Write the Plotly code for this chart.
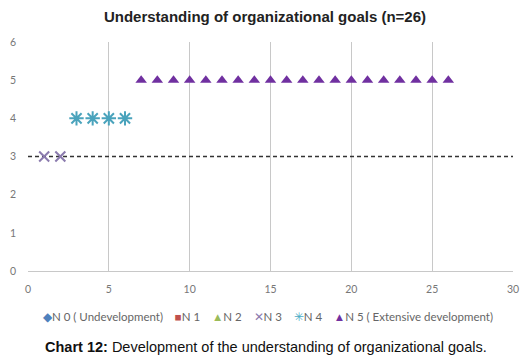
import plotly.graph_objects as go

n3_x = [1, 2]
n3_y = [3, 3]
n4_x = [3, 4, 5, 6]
n4_y = [4, 4, 4, 4]
n5_x = list(range(7, 27))
n5_y = [5] * 20
ref_x = [0, 30]
ref_y = [3, 3]
x_ticks = [0, 5, 10, 15, 20, 25, 30]
y_ticks = [0, 1, 2, 3, 4, 5, 6]
legend_names = ["N 0 ( Undevelopment)", "N 1", "N 2", "N 3", "N 4", "N 5 ( Extensive development)"]
legend_symbols = ["\u25C6", "\u25A0", "\u25B2", "\u2715", "\u2733", "\u25B2"]
legend_colors = ["#4F81BD", "#C0504D", "#9BBB59", "#8B7BAE", "#4BACC6", "#7030A0"]

FONT = "Lato, Liberation Sans, Arial"
W, H = 524, 355  # page body has an 8px margin

fig = go.Figure()
fig.add_trace(go.Scatter(x=ref_x, y=ref_y, mode="lines", showlegend=False,
                         line=dict(color="#333333", width=1.3, dash="4px,3px"), hoverinfo="skip"))
fig.add_trace(go.Scatter(x=n3_x, y=n3_y, mode="markers", name=legend_names[3],
                         marker=dict(symbol="x-thin-open", size=10, color="#8B7BAE",
                                     line=dict(color="#8B7BAE", width=2))))
fig.add_trace(go.Scatter(x=n4_x, y=n4_y, mode="markers", name=legend_names[4],
                         marker=dict(symbol="asterisk-open", size=12, color="#4AA3BC",
                                     line=dict(color="#4AA3BC", width=2))))
fig.add_trace(go.Scatter(x=n5_x, y=n5_y, mode="markers", name=legend_names[5],
                         marker=dict(symbol="triangle-up", color="#7030A0", size=10)))

fig.update_layout(
    width=W, height=H,
    margin=dict(l=20, r=19, t=34, b=92, autoexpand=False),
    paper_bgcolor="white", plot_bgcolor="white",
    showlegend=False,
    title=dict(text="<b>Understanding of organizational goals (n=26)</b>", x=(265 - 8) / W, xanchor="center",
               y=1 - 9 / H, yanchor="middle", yref="container",
               font=dict(family="Liberation Sans, Arial", size=15, color="#222222")),
    xaxis=dict(range=[0, 30], tickvals=x_ticks, showgrid=True, gridcolor="#c8c8c8", gridwidth=1,
               zeroline=False, showline=True, linecolor="#c8c8c8", ticks="", automargin=False,
               ticklabelstandoff=8,
               tickfont=dict(family=FONT, size=10.5, color="#777777")),
    yaxis=dict(range=[0, 6], tickvals=y_ticks, showgrid=False, zeroline=False, showline=False,
               ticks="", ticklabelstandoff=11, automargin=False,
               tickfont=dict(family=FONT, size=10.5, color="#777777")),
)

legend_text = "&nbsp;&nbsp;&nbsp;&nbsp;".join(
    f"<span style='color:{c}'>{s}</span>{n}" for s, c, n in zip(legend_symbols, legend_colors, legend_names)
)
fig.add_annotation(text=legend_text, x=(268 - 28) / (513 - 28), y=-(316 - 271) / (271 - 42),
                   xref="paper", yref="paper",
                   xanchor="center", yanchor="middle", showarrow=False,
                   font=dict(family=FONT, size=11.5, color="#666666"))
fig.add_annotation(text="<b>Chart 12:</b> Development of the understanding of organizational goals.",
                   x=(266 - 28) / (513 - 28), y=-(347 - 271) / (271 - 42), xref="paper", yref="paper",
                   yanchor="middle", xanchor="center", showarrow=False,
                   font=dict(family="Liberation Sans, Arial", size=14.5, color="#111111"))
fig.write_html("out.html")
